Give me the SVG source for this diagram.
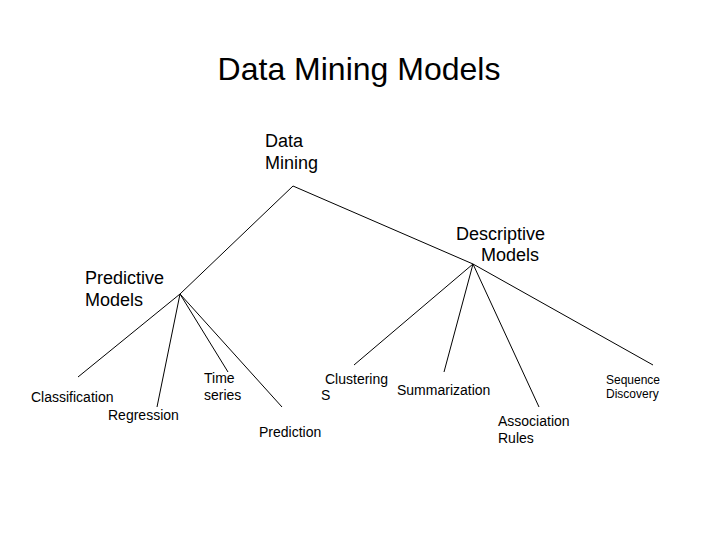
<svg xmlns="http://www.w3.org/2000/svg" width="720" height="540" viewBox="0 0 720 540">
<style>
text{font-family:"Liberation Sans",Arial,sans-serif;fill:#000}
.t{font-size:32px}
.m{font-size:18px}
.s{font-size:14px}
.xs{font-size:12px}
.c line{stroke:#000;stroke-width:1}
</style>
<rect width="720" height="540" fill="#fff"/>
<text class="t" x="359" y="80" text-anchor="middle">Data Mining Models</text>
<g class="c" id="connectors">
<line x1="293" y1="186" x2="180" y2="294"/>
<line x1="293" y1="186" x2="473" y2="264"/>
<line x1="180" y1="294" x2="78" y2="377"/>
<line x1="180" y1="294" x2="157" y2="407"/>
<line x1="180" y1="294" x2="228" y2="372"/>
<line x1="180" y1="294" x2="282" y2="407"/>
<line x1="473" y1="264" x2="354" y2="365"/>
<line x1="473" y1="264" x2="444" y2="372"/>
<line x1="473" y1="264" x2="539" y2="407"/>
<line x1="473" y1="264" x2="653" y2="365"/>
</g>
<g id="data-mining"><text class="m" x="265" y="147">Data</text><text class="m" x="265" y="169">Mining</text></g>
<g id="descriptive"><text class="m" x="456" y="240">Descriptive</text><text class="m" x="481" y="261">Models</text></g>
<g id="predictive"><text class="m" x="85" y="284">Predictive</text><text class="m" x="85" y="306">Models</text></g>
<g id="classification"><text class="s" x="31" y="402">Classification</text></g>
<g id="regression"><text class="s" x="108" y="420">Regression</text></g>
<g id="time-series"><text class="s" x="204" y="383">Time</text><text class="s" x="204" y="400">series</text></g>
<g id="prediction"><text class="s" x="259" y="437">Prediction</text></g>
<g id="clustering"><text class="s" x="325" y="384">Clustering</text><text class="s" x="321" y="400">S</text></g>
<g id="summarization"><text class="s" x="397" y="395">Summarization</text></g>
<g id="association"><text class="s" x="498" y="426">Association</text><text class="s" x="498" y="443">Rules</text></g>
<g id="sequence"><text class="xs" x="606" y="384">Sequence</text><text class="xs" x="606" y="398">Discovery</text></g>
</svg>
